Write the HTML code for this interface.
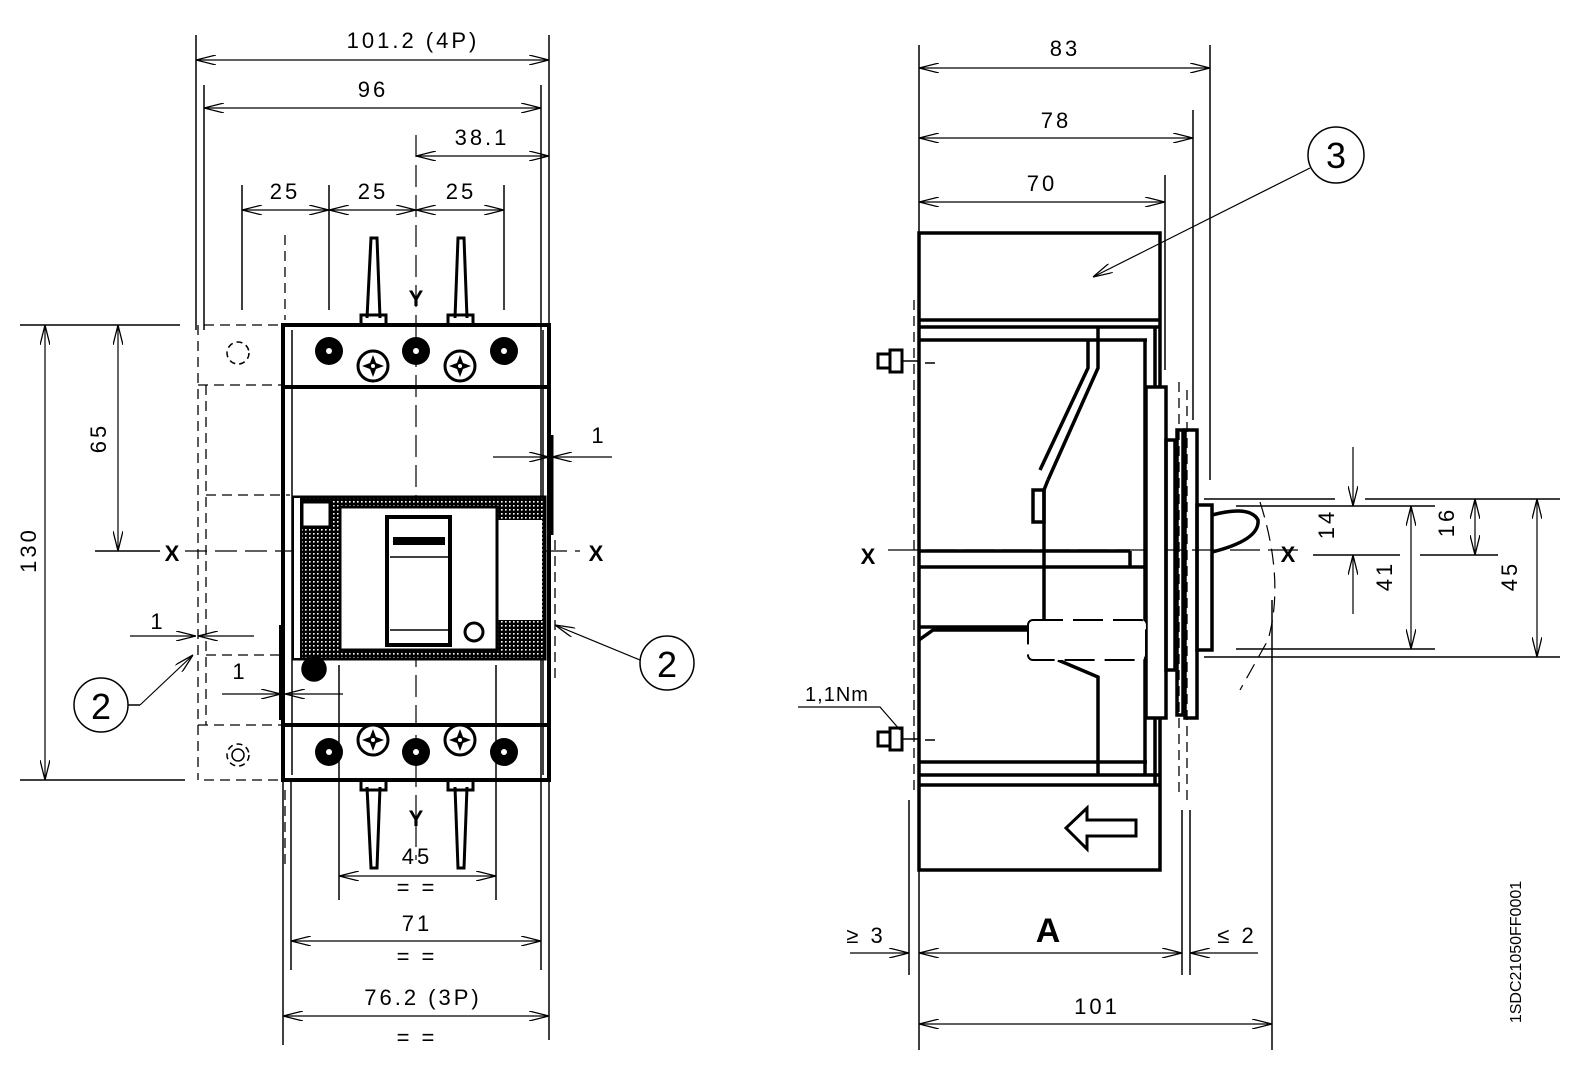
<!DOCTYPE html>
<html><head><meta charset="utf-8"><style>
html,body{margin:0;padding:0;background:#fff}
svg{display:block}
text{font-family:"Liberation Sans",sans-serif;fill:#000}
.d{font-size:22px;letter-spacing:3px}
.b{font-size:22px;font-weight:bold}
</style></head><body>
<svg width="1577" height="1085" viewBox="0 0 1577 1085" xmlns="http://www.w3.org/2000/svg">
<defs>
<marker id="a" viewBox="0 0 20 10" refX="20" refY="5" markerWidth="20" markerHeight="10" markerUnits="userSpaceOnUse" orient="auto-start-reverse"><path d="M0,0 L20,5 L0,10" fill="none" stroke="#000" stroke-width="1.3"/></marker>
<pattern id="dots" width="4" height="4" patternUnits="userSpaceOnUse"><rect width="4" height="4" fill="#000"/><rect x="1" y="1" width="1.6" height="1.6" fill="#fff"/></pattern>
<g id="ph"><circle r="15" fill="#fff" stroke="#000" stroke-width="3"/><path d="M0,-11 L3,-3 L11,0 L3,3 L0,11 L-3,3 L-11,0 L-3,-3 Z" fill="#000"/><circle r="2" fill="#fff"/></g>
<g id="sc"><circle r="14" fill="#000"/><circle r="3" fill="#fff"/></g>
</defs>
<g stroke="#000" fill="none" stroke-width="1.5">
<line x1="196" y1="35" x2="196" y2="330"/>
<line x1="549" y1="35" x2="549" y2="1040"/>
<line x1="204" y1="85" x2="204" y2="330"/>
<line x1="541" y1="85" x2="541" y2="970"/>
<line x1="242" y1="185" x2="242" y2="310"/>
<line x1="329" y1="185" x2="329" y2="310"/>
<line x1="504" y1="185" x2="504" y2="310"/>
<line x1="283" y1="780" x2="283" y2="1045"/>
<line x1="291" y1="780" x2="291" y2="970"/>
<line x1="339" y1="665" x2="339" y2="900"/>
<line x1="496" y1="665" x2="496" y2="900"/>
<g marker-start="url(#a)" marker-end="url(#a)" stroke-width="1.2">
<line x1="196" y1="60" x2="549" y2="60"/>
<line x1="204" y1="108" x2="541" y2="108"/>
<line x1="416" y1="156" x2="549" y2="156"/>
<line x1="242" y1="210" x2="329" y2="210"/>
<line x1="329" y1="210" x2="416" y2="210"/>
<line x1="416" y1="210" x2="504" y2="210"/>
<line x1="339" y1="876" x2="496" y2="876"/>
<line x1="291" y1="941" x2="541" y2="941"/>
<line x1="283" y1="1016" x2="549" y2="1016"/>
<line x1="45" y1="325" x2="45" y2="780"/>
<line x1="118" y1="325" x2="118" y2="551"/>
</g>
<line x1="20" y1="325" x2="180" y2="325"/>
<line x1="20" y1="780" x2="185" y2="780"/>
<line x1="95" y1="551" x2="160" y2="551"/>
<line x1="416" y1="135" x2="416" y2="860" stroke-dasharray="22,8" stroke-width="1.2"/>
<line x1="185" y1="551" x2="580" y2="551" stroke-dasharray="22,8" stroke-width="1.2"/>
<g stroke-dasharray="10,6" stroke-width="1.3">
<line x1="198" y1="325" x2="198" y2="780"/>
<line x1="206" y1="385" x2="206" y2="725"/>
<line x1="198" y1="385" x2="283" y2="385"/>
<line x1="206" y1="495" x2="290" y2="495"/>
<line x1="206" y1="655" x2="283" y2="655"/>
<line x1="198" y1="725" x2="283" y2="725"/>
<line x1="204" y1="325" x2="283" y2="325"/>
<line x1="204" y1="780" x2="283" y2="780"/>
<line x1="285" y1="235" x2="285" y2="320"/>
<line x1="285" y1="790" x2="285" y2="870"/>
<line x1="555" y1="540" x2="555" y2="680"/>
</g>
<circle cx="238" cy="353" r="11" stroke-dasharray="6,4"/>
<circle cx="238" cy="755" r="11" stroke-dasharray="6,4"/>
<circle cx="238" cy="755" r="6"/>
<g stroke-width="4">
<path d="M283,325 H549 V780 H283 Z"/>
<line x1="283" y1="387" x2="549" y2="387"/>
<line x1="283" y1="725" x2="549" y2="725"/>
</g>
<line x1="292" y1="330" x2="292" y2="775" stroke-width="1.5"/>
<line x1="543" y1="330" x2="543" y2="775" stroke-width="1.5"/>
<line x1="552" y1="435" x2="552" y2="535" stroke-width="3"/>
<line x1="280" y1="625" x2="280" y2="720" stroke-width="2"/>
<g stroke-width="3">
<path d="M367,318 L371,238 H377 L380,318"/>
<path d="M455,318 L458,238 H464 L467,318"/>
<path d="M367,787 L371,868 H377 L380,787"/>
<path d="M455,787 L458,868 H464 L467,787"/>
<path d="M361,325 V315 H386 V325"/><path d="M448,325 V315 H473 V325"/>
<path d="M361,780 V790 H386 V780"/><path d="M448,780 V790 H473 V780"/>
</g>
<rect x="293" y="497" width="252" height="162" fill="url(#dots)" stroke-width="3"/>
<rect x="293" y="497" width="8" height="162" fill="#fff" stroke-width="2"/>
<rect x="340" y="507" width="157" height="143" fill="#fff" stroke-width="3"/>
<rect x="497" y="520" width="45" height="100" fill="#fff" stroke="none"/>
<line x1="497" y1="507" x2="497" y2="650" stroke-width="3"/>
<rect x="302" y="502" width="28" height="25" fill="#fff" stroke-width="3"/>
<rect x="387" y="517" width="63" height="128" fill="#fff" stroke-width="4"/>
<rect x="393" y="537" width="52" height="8" fill="#000" stroke="none"/>
<line x1="390" y1="557" x2="448" y2="557"/>
<line x1="390" y1="630" x2="448" y2="630"/>
<circle cx="474" cy="632" r="9" stroke-width="3"/>
<circle cx="314" cy="669" r="12" fill="#000"/>
<line x1="493" y1="457" x2="549" y2="457" marker-end="url(#a)" stroke-width="1.2"/>
<line x1="612" y1="457" x2="552" y2="457" marker-end="url(#a)" stroke-width="1.2"/>
<line x1="130" y1="636" x2="196" y2="636" marker-end="url(#a)" stroke-width="1.2"/>
<line x1="254" y1="636" x2="198" y2="636" marker-end="url(#a)" stroke-width="1.2"/>
<line x1="222" y1="694" x2="281" y2="694" marker-end="url(#a)" stroke-width="1.2"/>
<line x1="343" y1="694" x2="285" y2="694" marker-end="url(#a)" stroke-width="1.2"/>
<circle cx="101" cy="705" r="27"/>
<circle cx="667" cy="663" r="27"/>
<line x1="128" y1="705" x2="140" y2="705"/>
<line x1="140" y1="705" x2="193" y2="655" marker-end="url(#a)" stroke-width="1.2"/>
<line x1="640" y1="660" x2="555" y2="625" marker-end="url(#a)" stroke-width="1.2"/>

<!-- RIGHT VIEW -->
<line x1="919" y1="45" x2="919" y2="1050"/>
<line x1="1210" y1="45" x2="1210" y2="480"/>
<line x1="1193" y1="110" x2="1193" y2="420"/>
<line x1="1165" y1="175" x2="1165" y2="370"/>
<line x1="1272" y1="600" x2="1272" y2="1050"/>
<line x1="1182" y1="810" x2="1182" y2="975"/>
<line x1="1190" y1="810" x2="1190" y2="975"/>
<line x1="909" y1="800" x2="909" y2="975"/>
<g marker-start="url(#a)" marker-end="url(#a)" stroke-width="1.2">
<line x1="919" y1="68" x2="1210" y2="68"/>
<line x1="919" y1="138" x2="1193" y2="138"/>
<line x1="919" y1="202" x2="1165" y2="202"/>
<line x1="919" y1="953" x2="1182" y2="953"/>
<line x1="919" y1="1024" x2="1272" y2="1024"/>
<line x1="1411" y1="506" x2="1411" y2="649"/>
<line x1="1475" y1="499" x2="1475" y2="555"/>
<line x1="1537" y1="499" x2="1537" y2="657"/>
</g>
<line x1="850" y1="953" x2="909" y2="953" marker-end="url(#a)" stroke-width="1.2"/>
<line x1="1258" y1="953" x2="1190" y2="953" marker-end="url(#a)" stroke-width="1.2"/>
<line x1="1353" y1="447" x2="1353" y2="506" marker-end="url(#a)" stroke-width="1.2"/>
<line x1="1353" y1="614" x2="1353" y2="555" marker-end="url(#a)" stroke-width="1.2"/>
<line x1="1204" y1="499" x2="1335" y2="499"/><line x1="1365" y1="499" x2="1560" y2="499"/>
<line x1="1236" y1="506" x2="1435" y2="506"/>
<line x1="1236" y1="649" x2="1435" y2="649"/>
<line x1="1204" y1="657" x2="1560" y2="657"/>
<line x1="1313" y1="555" x2="1400" y2="555"/><line x1="1420" y1="555" x2="1498" y2="555"/>
<line x1="888" y1="550" x2="1300" y2="550" stroke-dasharray="30,8" stroke-width="1.2"/>
<path d="M1260,502 Q1285,580 1268,640 L1240,690" stroke-dasharray="16,8" stroke-width="1.2"/>
<circle cx="1336" cy="155" r="28"/>
<line x1="1310" y1="168" x2="1093" y2="277" marker-end="url(#a)" stroke-width="1.2"/>
<g stroke-width="3.5">
<rect x="919" y="233" width="241" height="637"/>
<line x1="919" y1="320" x2="1160" y2="320"/>
<line x1="919" y1="785" x2="1160" y2="785"/>
<line x1="919" y1="327" x2="1160" y2="327"/>
<line x1="919" y1="340" x2="1147" y2="340"/>
<line x1="919" y1="775" x2="1160" y2="775"/>
<line x1="919" y1="762" x2="1147" y2="762"/>
<line x1="919" y1="551" x2="1130" y2="551"/>
<line x1="919" y1="567" x2="1145" y2="567"/>
<line x1="1145" y1="340" x2="1145" y2="775"/>
<line x1="1155" y1="327" x2="1155" y2="785"/>
<path d="M1098,327 V368 L1048,480"/>
<path d="M1088,340 V368 L1040,470"/>
<path d="M1048,480 L1044,490 V650"/>
<rect x="1033" y="490" width="11" height="32"/>
<path d="M919,640 L933,630 H1033"/>
<line x1="919" y1="627" x2="1033" y2="627"/>
<path d="M1058,660 L1098,677 V775"/>
<line x1="1130" y1="551" x2="1130" y2="567"/>
<rect x="1146" y="387" width="20" height="331" fill="#fff"/>
<rect x="1166" y="440" width="9" height="230"/>
<rect x="1177" y="430" width="6" height="285"/>
<rect x="1185" y="430" width="12" height="288"/>
<rect x="1197" y="505" width="15" height="145"/>
<path d="M1212,515 Q1250,505 1258,520 Q1260,540 1212,552"/>
<path d="M1136,820 V836 H1087 V849 L1066,828 L1087,808 V820 Z" stroke-width="3"/>
</g>
<rect x="1028" y="620" width="118" height="40" rx="5" fill="#fff" stroke-width="2" stroke-dasharray="30,10"/>
<g stroke-dasharray="10,6" stroke-width="1.3">
<line x1="914" y1="300" x2="914" y2="790"/>
<line x1="1179" y1="382" x2="1179" y2="795"/>
<line x1="1187" y1="390" x2="1187" y2="800"/>
</g>
<g stroke-width="3">
<rect x="878" y="354" width="12" height="14"/><rect x="890" y="350" width="12" height="22"/>
<rect x="878" y="732" width="12" height="14"/><rect x="890" y="728" width="12" height="22"/>
</g>
<line x1="902" y1="361" x2="919" y2="361"/><line x1="925" y1="363" x2="935" y2="363"/>
<line x1="902" y1="739" x2="919" y2="739"/><line x1="925" y1="740" x2="935" y2="740"/>
<path d="M798,707 H880 L900,730" stroke-width="1.2"/>
</g>
<!-- screws -->
<use href="#sc" x="329" y="351"/><use href="#sc" x="416" y="351"/><use href="#sc" x="504" y="351"/>
<use href="#ph" x="373" y="366"/><use href="#ph" x="460" y="366"/>
<use href="#sc" x="329" y="752"/><use href="#sc" x="416" y="752"/><use href="#sc" x="504" y="752"/>
<use href="#ph" x="373" y="740"/><use href="#ph" x="460" y="740"/>

<text class="d" x="413" y="48" text-anchor="middle">101.2 (4P)</text>
<text class="d" x="373" y="97" text-anchor="middle">96</text>
<text class="d" x="482" y="145" text-anchor="middle">38.1</text>
<text class="d" x="285" y="199" text-anchor="middle">25</text>
<text class="d" x="373" y="199" text-anchor="middle">25</text>
<text class="d" x="461" y="199" text-anchor="middle">25</text>
<text class="b" x="416" y="306" text-anchor="middle">Y</text>
<text class="b" x="416" y="826" text-anchor="middle">Y</text>
<text class="b" x="172" y="561" text-anchor="middle">X</text>
<text class="b" x="596" y="561" text-anchor="middle">X</text>
<text class="d" transform="translate(106,438) rotate(-90)" text-anchor="middle">65</text>
<text class="d" transform="translate(36,550) rotate(-90)" text-anchor="middle">130</text>
<text class="d" x="599" y="443" text-anchor="middle">1</text>
<text class="d" x="158" y="629" text-anchor="middle">1</text>
<text class="d" x="240" y="679" text-anchor="middle">1</text>
<text x="101" y="719" font-size="36" text-anchor="middle">2</text>
<text x="667" y="677" font-size="36" text-anchor="middle">2</text>
<text class="d" x="417" y="864" text-anchor="middle">45</text>
<text class="d" x="417" y="895" text-anchor="middle">= =</text>
<text class="d" x="417" y="931" text-anchor="middle">71</text>
<text class="d" x="417" y="964" text-anchor="middle">= =</text>
<text class="d" x="423" y="1005" text-anchor="middle">76.2 (3P)</text>
<text class="d" x="417" y="1045" text-anchor="middle">= =</text>
<text class="d" x="1065" y="56" text-anchor="middle">83</text>
<text class="d" x="1056" y="128" text-anchor="middle">78</text>
<text class="d" x="1042" y="191" text-anchor="middle">70</text>
<text x="1336" y="168" font-size="36" text-anchor="middle">3</text>
<text class="b" x="868" y="564" text-anchor="middle">X</text>
<text class="b" x="1288" y="562" text-anchor="middle">X</text>
<text class="d" transform="translate(1334,524) rotate(-90)" text-anchor="middle">14</text>
<text class="d" transform="translate(1392,576) rotate(-90)" text-anchor="middle">41</text>
<text class="d" transform="translate(1454,522) rotate(-90)" text-anchor="middle">16</text>
<text class="d" transform="translate(1517,576) rotate(-90)" text-anchor="middle">45</text>
<text x="837" y="701" font-size="20" letter-spacing="1" text-anchor="middle">1,1Nm</text>
<text class="d" x="866" y="943" text-anchor="middle">≥ 3</text>
<text x="1048" y="942" font-size="34" font-weight="bold" text-anchor="middle">A</text>
<text class="d" x="1237" y="943" text-anchor="middle">≤ 2</text>
<text class="d" x="1097" y="1014" text-anchor="middle">101</text>
<text transform="translate(1521,952) rotate(-90)" font-size="16" text-anchor="middle">1SDC21050FF0001</text>
</svg>
</body></html>
